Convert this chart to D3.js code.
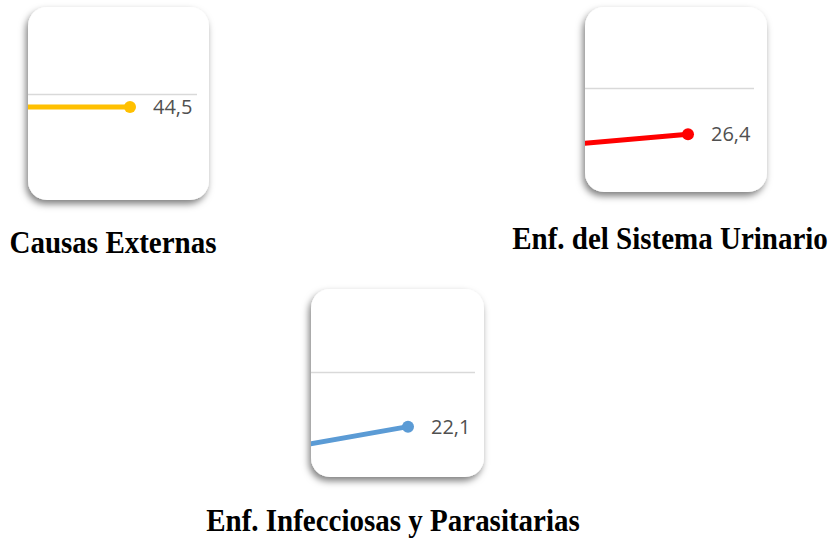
<!DOCTYPE html>
<html>
<head>
<meta charset="utf-8">
<script src="https://cdn.jsdelivr.net/npm/d3@7"></script>
<style>
	html, body { margin: 0; padding: 0; background: #fff; }
	svg { display: block; }
</style>
</head>
<body>
<div id="chart"></div>
<script>
'use strict';

// chart data
var titles		= ['Causas Externas', 'Enf. del Sistema Urinario', 'Enf. Infecciosas y Parasitarias'];
var prevValues	= [44.5, 25.4, 20.7];
var lastValues	= [44.5, 26.4, 22.1];
var gridTicks	= [50, 30, 25];
var colors		= ['#FFC000', '#FF0000', '#5B9BD5'];

// layout of each card (pixels)
var layout = [
	{ x: 28,  y: 7,   w: 181, h: 193, dotX: 130, y0: 212, yTick: 94,  gridEnd: 197, tx: 113, ty: 253 },
	{ x: 585, y: 7,   w: 182, h: 185, dotX: 688, y0: 474, yTick: 88,  gridEnd: 754, tx: 670, ty: 249 },
	{ x: 311, y: 289, w: 173, h: 188, dotX: 408, y0: 843, yTick: 372, gridEnd: 475, tx: 393, ty: 531 }
];

var W = 832, H = 539;
var fmt = d3.formatLocale({ decimal: ',', thousands: '.', grouping: [3], currency: ['', ''] }).format('.1f');

var svg = d3.select('#chart').append('svg')
	.attr('width', W)
	.attr('height', H);

var defs = svg.append('defs');

// soft shadow under the cards
var shadow = defs.append('filter')
	.attr('id', 'shadow')
	.attr('x', '-20%').attr('y', '-20%')
	.attr('width', '140%').attr('height', '140%');
shadow.append('feDropShadow')
	.attr('dx', -2)
	.attr('dy', 4)
	.attr('stdDeviation', 3.5)
	.attr('flood-color', '#000')
	.attr('flood-opacity', 0.5);

titles.forEach(function(title, i){
	var L = layout[i];

	// clip to the rounded card
	defs.append('clipPath')
		.attr('id', 'clip-' + i)
		.append('rect')
		.attr('x', L.x).attr('y', L.y)
		.attr('width', L.w).attr('height', L.h)
		.attr('rx', 19).attr('ry', 19);

	svg.append('rect')
		.attr('x', L.x).attr('y', L.y)
		.attr('width', L.w).attr('height', L.h)
		.attr('rx', 19).attr('ry', 19)
		.attr('fill', '#fff')
		.attr('filter', 'url(#shadow)');

	var g = svg.append('g').attr('clip-path', 'url(#clip-' + i + ')');

	// scales
	var x = d3.scaleLinear().domain([0, 1]).range([L.dotX - 150, L.dotX]);
	var y = d3.scaleLinear().domain([0, gridTicks[i]]).range([L.y0, L.yTick]);

	// gridline
	var grid = g.append('g')
		.attr('transform', 'translate(' + L.gridEnd + ',0)')
		.call(d3.axisLeft(y)
			.tickValues([gridTicks[i]])
			.tickSize(L.gridEnd - L.x + 10)
			.tickFormat(''));
	grid.select('.domain').remove();
	grid.selectAll('line')
		.attr('stroke', '#D9D9D9')
		.attr('stroke-width', 1.5);

	// series line
	var pts = [prevValues[i], lastValues[i]];
	var line = d3.line()
		.x(function(d, k){ return x(k); })
		.y(function(d){ return y(d); });

	g.append('path')
		.datum(pts)
		.attr('d', line)
		.attr('fill', 'none')
		.attr('stroke', colors[i])
		.attr('stroke-width', 5)
		.attr('stroke-linecap', 'round');

	g.append('circle')
		.attr('cx', x(1))
		.attr('cy', y(lastValues[i]))
		.attr('r', 6)
		.attr('fill', colors[i]);

	g.append('text')
		.attr('x', x(1) + 23)
		.attr('y', y(lastValues[i]))
		.attr('dy', '0.35em')
		.attr('font-family', '"Open Sans", sans-serif')
		.attr('font-size', 20)
		.attr('fill', '#505050')
		.text(fmt(lastValues[i]));

	// title under the card, a little taller like the source
	svg.append('text')
		.attr('transform', 'translate(' + L.tx + ',' + L.ty + ') scale(1,1.08)')
		.attr('text-anchor', 'middle')
		.attr('font-family', '"Liberation Serif", "Times New Roman", serif')
		.attr('font-weight', 'bold')
		.attr('font-size', 29)
		.attr('fill', '#000')
		.text(title);
});
</script>
</body>
</html>
